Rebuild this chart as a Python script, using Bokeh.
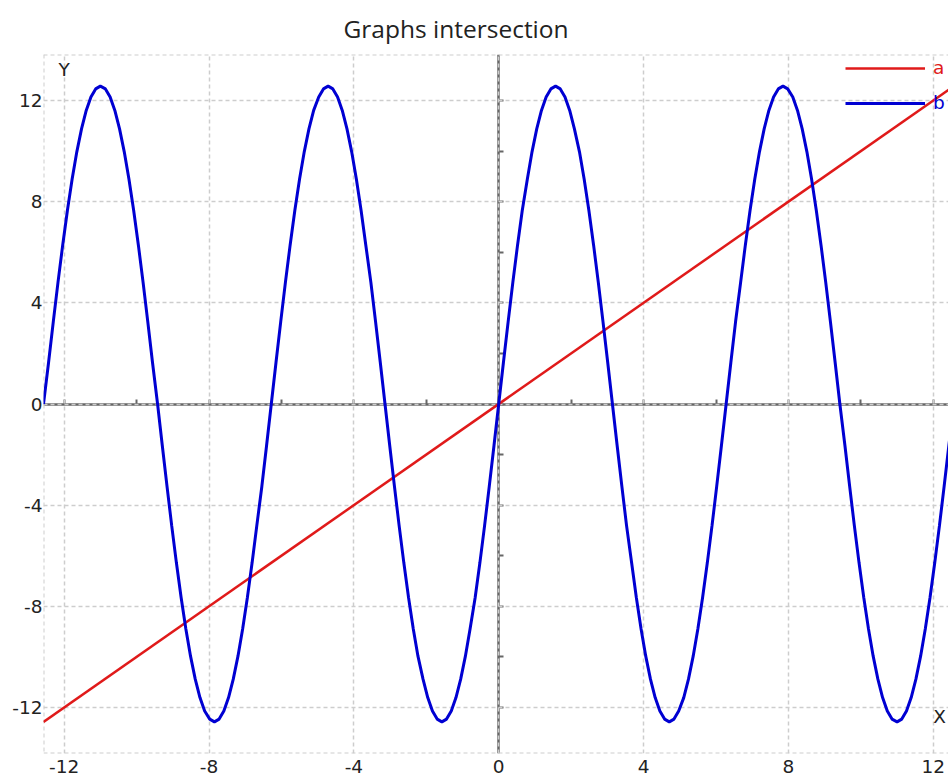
from bokeh.plotting import figure
from bokeh.models import (Range1d, FixedTicker, LinearAxis, Legend, LegendItem,
                          Label, Span, Grid, Title)
from bokeh.embed import file_html
from bokeh.resources import INLINE

# ---------------- data ----------------
title_text = "Graphs intersection"
x_ticks = [-12, -8, -4, 0, 4, 8, 12]
y_ticks = [-12, -8, -4, 0, 4, 8, 12]
axis_ticks = [-12, -10, -8, -6, -4, -2, 0, 2, 4, 6, 8, 10, 12]
x_start, x_end = -12.57, 12.42
y_start, y_end = -13.82, 13.82

a_name = "a"
a_x = [-12.57, 12.57]
a_y = [-12.57, 12.57]

b_name = "b"
b_x = [
    -12.57, -12.43, -12.30, -12.17, -12.04, -11.91, -11.78, -11.65, -11.52, -11.39, -11.26, -11.13,
    -11.00, -10.86, -10.73, -10.60, -10.47, -10.34, -10.21, -10.08, -9.95, -9.82, -9.69, -9.56,
    -9.42, -9.29, -9.16, -9.03, -8.90, -8.77, -8.64, -8.51, -8.38, -8.25, -8.12, -7.98,
    -7.85, -7.72, -7.59, -7.46, -7.33, -7.20, -7.07, -6.94, -6.81, -6.68, -6.54, -6.41,
    -6.28, -6.15, -6.02, -5.89, -5.76, -5.63, -5.50, -5.37, -5.24, -5.11, -4.97, -4.84,
    -4.71, -4.58, -4.45, -4.32, -4.19, -4.06, -3.93, -3.80, -3.67, -3.53, -3.40, -3.27,
    -3.14, -3.01, -2.88, -2.75, -2.62, -2.49, -2.36, -2.23, -2.09, -1.96, -1.83, -1.70,
    -1.57, -1.44, -1.31, -1.18, -1.05, -0.92, -0.79, -0.65, -0.52, -0.39, -0.26, -0.13,
    0.0,
    0.13, 0.26, 0.39, 0.52, 0.65, 0.79, 0.92, 1.05, 1.18, 1.31, 1.44, 1.57,
    1.70, 1.83, 1.96, 2.09, 2.23, 2.36, 2.49, 2.62, 2.75, 2.88, 3.01, 3.14,
    3.27, 3.40, 3.53, 3.67, 3.80, 3.93, 4.06, 4.19, 4.32, 4.45, 4.58, 4.71,
    4.84, 4.97, 5.11, 5.24, 5.37, 5.50, 5.63, 5.76, 5.89, 6.02, 6.15, 6.28,
    6.41, 6.54, 6.68, 6.81, 6.94, 7.07, 7.20, 7.33, 7.46, 7.59, 7.72, 7.85,
    7.98, 8.12, 8.25, 8.38, 8.51, 8.64, 8.77, 8.90, 9.03, 9.16, 9.29, 9.42,
    9.56, 9.69, 9.82, 9.95, 10.08, 10.21, 10.34, 10.47, 10.60, 10.73, 10.86, 11.00,
    11.13, 11.26, 11.39, 11.52, 11.65, 11.78, 11.91, 12.04, 12.17, 12.30, 12.43, 12.57,
]
b_y = [
    0.0, 1.64, 3.25, 4.81, 6.28, 7.65, 8.89, 9.97, 10.88, 11.61, 12.14, 12.46,
    12.57, 12.46, 12.14, 11.61, 10.88, 9.97, 8.89, 7.65, 6.28, 4.81, 3.25, 1.64,
    0.0, -1.64, -3.25, -4.81, -6.28, -7.65, -8.89, -9.97, -10.88, -11.61, -12.14, -12.46,
    -12.57, -12.46, -12.14, -11.61, -10.88, -9.97, -8.89, -7.65, -6.28, -4.81, -3.25, -1.64,
    0.0, 1.64, 3.25, 4.81, 6.28, 7.65, 8.89, 9.97, 10.88, 11.61, 12.14, 12.46,
    12.57, 12.46, 12.14, 11.61, 10.88, 9.97, 8.89, 7.65, 6.28, 4.81, 3.25, 1.64,
    0.0, -1.64, -3.25, -4.81, -6.28, -7.65, -8.89, -9.97, -10.88, -11.61, -12.14, -12.46,
    -12.57, -12.46, -12.14, -11.61, -10.88, -9.97, -8.89, -7.65, -6.28, -4.81, -3.25, -1.64,
    0.0, 1.64, 3.25, 4.81, 6.28, 7.65, 8.89, 9.97, 10.88, 11.61, 12.14, 12.46,
    12.57, 12.46, 12.14, 11.61, 10.88, 9.97, 8.89, 7.65, 6.28, 4.81, 3.25, 1.64,
    0.0, -1.64, -3.25, -4.81, -6.28, -7.65, -8.89, -9.97, -10.88, -11.61, -12.14, -12.46,
    -12.57, -12.46, -12.14, -11.61, -10.88, -9.97, -8.89, -7.65, -6.28, -4.81, -3.25, -1.64,
    0.0, 1.64, 3.25, 4.81, 6.28, 7.65, 8.89, 9.97, 10.88, 11.61, 12.14, 12.46,
    12.57, 12.46, 12.14, 11.61, 10.88, 9.97, 8.89, 7.65, 6.28, 4.81, 3.25, 1.64,
    0.0, -1.64, -3.25, -4.81, -6.28, -7.65, -8.89, -9.97, -10.88, -11.61, -12.14, -12.46,
    -12.57, -12.46, -12.14, -11.61, -10.88, -9.97, -8.89, -7.65, -6.28, -4.81, -3.25, -1.64,
    0.0,
]

# ---------------- style ----------------
RED = "#e01a1a"
BLUE = "#0000d2"
GRID = "#cdcdcd"
AXIS = "#666666"
TXT = "#222222"
TICK_FONT = "DejaVu Sans"
TICK_SIZE = "18.5px"

p = figure(width=948, height=781,
           x_range=Range1d(x_start, x_end), y_range=Range1d(y_start, y_end),
           output_backend="svg", toolbar_location=None,
           x_axis_location=None, y_axis_location=None,
           min_border_left=43, min_border_right=0, min_border_top=53, min_border_bottom=28)
p.outline_line_color = None
p.background_fill_color = "white"
p.border_fill_color = "white"
p.grid.visible = False  # drop default grids; dashed ones are added below

p.title = Title(text=title_text, align="left", offset=300, standoff=19,
                text_font="Open Sans", text_font_size="24.5px", text_font_style="normal",
                text_color=TXT)

# tick labels on the outside (plain hyphen minus as in the original)
x_labels = {t: str(t) for t in x_ticks}
y_labels = {t: str(t) for t in y_ticks}
lab_y = LinearAxis(ticker=FixedTicker(ticks=y_ticks), major_label_overrides=y_labels,
                   axis_line_color=None, major_tick_line_color=None,
                   minor_tick_line_color=None, major_tick_out=0, major_tick_in=0,
                   major_label_standoff=1,
                   major_label_text_font=TICK_FONT, major_label_text_font_size=TICK_SIZE,
                   major_label_text_color=TXT)
p.add_layout(lab_y, "left")
lab_x = LinearAxis(ticker=FixedTicker(ticks=x_ticks), major_label_overrides=x_labels,
                   axis_line_color=None, major_tick_line_color=None,
                   minor_tick_line_color=None, major_tick_out=0, major_tick_in=0,
                   major_label_standoff=6,
                   major_label_text_font=TICK_FONT, major_label_text_font_size=TICK_SIZE,
                   major_label_text_color=TXT)
p.add_layout(lab_x, "below")

# dashed grid
p.add_layout(Grid(dimension=0, ticker=FixedTicker(ticks=x_ticks), grid_line_color=GRID,
                  grid_line_dash="4 3", grid_line_width=1.5))
p.add_layout(Grid(dimension=1, ticker=FixedTicker(ticks=y_ticks), grid_line_color=GRID,
                  grid_line_dash="4 3", grid_line_width=1.5))
# dashed frame border (left, top, bottom)
p.add_layout(Span(location=x_start, dimension="height", line_color=GRID,
                  line_dash="4 3", line_width=2, level="underlay"))
p.add_layout(Span(location=y_end, dimension="width", line_color=GRID,
                  line_dash="4 3", line_width=2, level="underlay"))
p.add_layout(Span(location=y_start, dimension="width", line_color=GRID,
                  line_dash="4 3", line_width=2, level="underlay"))

# centre axes through the origin
blank = {t: "" for t in axis_ticks}
ax0 = LinearAxis(fixed_location=0, ticker=FixedTicker(ticks=axis_ticks),
                 major_label_overrides=blank, axis_line_color=AXIS, axis_line_width=2.5,
                 major_tick_line_color=AXIS, major_tick_line_width=2,
                 major_tick_in=5, major_tick_out=0, minor_tick_line_color=None,
                 level="underlay")
p.add_layout(ax0, "below")
ay0 = LinearAxis(fixed_location=0, ticker=FixedTicker(ticks=axis_ticks),
                 major_label_overrides=blank, axis_line_color=AXIS, axis_line_width=2.5,
                 major_tick_line_color=AXIS, major_tick_line_width=2,
                 major_tick_in=5, major_tick_out=0, minor_tick_line_color=None,
                 level="underlay")
p.add_layout(ay0, "left")

ra = p.line(a_x, a_y, line_color=RED, line_width=2.5)
rb = p.line(b_x, b_y, line_color=BLUE, line_width=3)

# axis names
p.add_layout(Label(x=-12, y=13.23, text="Y", text_align="center", text_baseline="middle",
                   text_font=TICK_FONT, text_font_size=TICK_SIZE, text_color=TXT))
p.add_layout(Label(x=12.0, y=-12.34, text="X", text_align="left", text_baseline="middle",
                   text_font=TICK_FONT, text_font_size=TICK_SIZE, text_color=TXT))

# legends (one per series so each label has its own colour)
common = dict(background_fill_alpha=0, border_line_color=None, padding=0, margin=0,
              glyph_width=80, glyph_height=20, label_standoff=8, label_width=0,
              label_height=20, spacing=0, label_text_font=TICK_FONT,
              label_text_font_size=TICK_SIZE)
leg_a = Legend(items=[LegendItem(label=a_name, renderers=[ra])], location=(802, 675),
               label_text_color=RED, **common)
leg_b = Legend(items=[LegendItem(label=b_name, renderers=[rb])], location=(802, 640),
               label_text_color=BLUE, **common)
p.add_layout(leg_a)
p.add_layout(leg_b)

open("out.html", "w").write(file_html(p, INLINE))
